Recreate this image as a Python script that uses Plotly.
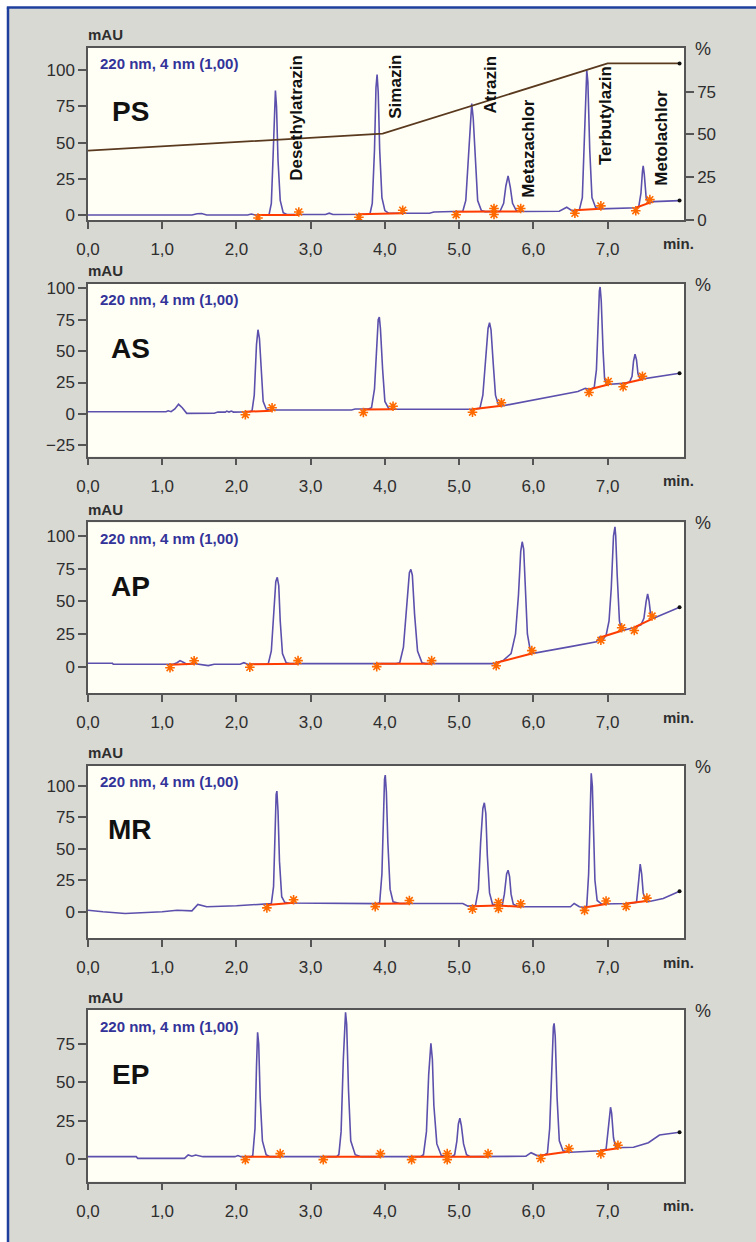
import plotly.graph_objects as go

W, H = 756, 1242

# ---------------- data ----------------
panel_names = ["PS", "AS", "AP", "MR", "EP"]
detector_label = "220 nm, 4 nm (1,00)"

x_tick_vals = [0, 1, 2, 3, 4, 5, 6, 7]
x_tick_text = ["0,0", "1,0", "2,0", "3,0", "4,0", "5,0", "6,0", "7,0"]
right_tick_vals = [0, 25, 50, 75]
left_tick_vals = [
    [0, 25, 50, 75, 100],
    [-25, 0, 25, 50, 75, 100],
    [0, 25, 50, 75, 100],
    [0, 25, 50, 75, 100],
    [0, 25, 50, 75],
]

# PS chromatogram (time in min, signal in mAU)
ps_t = [0.00, 1.40, 1.47, 1.53, 1.60, 2.15, 2.20, 2.25,
        2.44, 2.47, 2.49, 2.51, 2.525, 2.54, 2.56, 2.59, 2.63, 2.68,
        3.20, 3.25, 3.30, 3.75,
        3.80, 3.83, 3.86, 3.88, 3.895, 3.91, 3.93, 3.96, 4.00, 4.05,
        4.60, 4.66, 5.00,
        5.05, 5.09, 5.12, 5.15, 5.17, 5.19, 5.22, 5.25, 5.30, 5.35,
        5.55, 5.60, 5.63, 5.66, 5.69, 5.72, 5.77, 5.85,
        6.35, 6.45, 6.52,
        6.62, 6.66, 6.69, 6.71, 6.72, 6.735, 6.76, 6.79, 6.84, 6.90,
        7.30, 7.40,
        7.42, 7.45, 7.47, 7.48, 7.495, 7.52, 7.55,
        7.62, 7.97]
ps_mau = [0.0, 0.0, 0.8, 1.0, 0.0, 0.0, 0.6, 0.0,
          0.3, 8, 35, 75, 86, 75, 38, 10, 1.5, 0.3,
          0.3, 1.2, 0.3, 0.5,
          1.0, 8, 45, 88, 97, 85, 45, 12, 3, 1.2,
          1.2, 2.0, 2.2,
          2.5, 10, 35, 68, 77, 67, 35, 10, 3, 2.3,
          2.4, 8, 20, 27, 19, 8, 3, 2.4,
          2.5, 5.3, 3.0,
          3.5, 12, 55, 95, 100, 92, 45, 12, 5, 4.2,
          4.6, 5.0,
          5.5, 15, 30, 34, 28, 12, 8,
          9.2, 9.9]
ps_int_start = [2.29, 3.65, 4.96, 5.47, 6.56, 7.38]
ps_int_end = [2.84, 4.24, 5.47, 5.83, 6.91, 7.57]
ps_int_y0 = [0.0, 0.5, 2.2, 2.4, 3.2, 5.0]
ps_int_y1 = [0.0, 1.2, 2.4, 2.4, 4.2, 8.5]

# AS chromatogram
as_t = [0.00, 1.05, 1.08, 1.12, 1.17, 1.22, 1.27, 1.33, 1.70, 1.75, 1.85, 1.87,
        1.90, 1.93, 1.96, 2.18,
        2.21, 2.24, 2.27, 2.29, 2.31, 2.33, 2.36, 2.40, 2.45,
        3.55, 3.60, 3.78,
        3.82, 3.86, 3.89, 3.91, 3.925, 3.94, 3.97, 4.00, 4.05, 4.12,
        5.20,
        5.28, 5.32, 5.36, 5.39, 5.41, 5.43, 5.46, 5.49, 5.53, 5.58,
        6.60, 6.70, 6.76,
        6.82, 6.85, 6.87, 6.89, 6.90, 6.915, 6.94, 6.96, 6.99,
        7.25, 7.30,
        7.33, 7.35, 7.37, 7.39, 7.41, 7.44,
        7.97]
as_mau = [1.8, 1.8, 2.5, 1.8, 4.0, 7.7, 5.0, 0.5, 0.6, 1.5, 1.5, 2.3,
          1.5, 2.3, 1.5, 1.8,
          2.5, 15, 55, 67, 60, 35, 10, 4, 3.2,
          3.2, 3.9, 4.0,
          5, 20, 60, 75, 77, 68, 35, 10, 4.5, 3.7,
          3.7,
          4.5, 15, 45, 68, 72.6, 67, 40, 15, 7, 6.4,
          17.8, 20.4, 19.5,
          21, 35, 70, 98, 101, 90, 50, 28, 23.5,
          24.5, 25.7,
          30, 42, 47.5, 43, 32, 27.5,
          32.4]
as_int_start = [2.12, 3.71, 5.18, 6.75, 7.21]
as_int_end = [2.48, 4.11, 5.57, 7.01, 7.47]
as_int_y0 = [1.8, 3.6, 3.8, 19.5, 24.0]
as_int_y1 = [2.5, 3.8, 6.5, 23.5, 27.6]

# AP chromatogram
ap_t = [0.00, 0.33, 0.34, 1.15, 1.20, 1.24, 1.29, 1.33, 1.40, 1.45, 1.55, 1.62,
        1.70, 2.05, 2.10, 2.15, 2.40,
        2.43, 2.47, 2.51, 2.53, 2.55, 2.57, 2.59, 2.62, 2.67, 2.72,
        4.15,
        4.20, 4.25, 4.30, 4.33, 4.35, 4.37, 4.40, 4.44, 4.50, 4.55,
        5.45, 5.52,
        5.60, 5.70, 5.76, 5.80, 5.83, 5.85, 5.87, 5.89, 5.92, 5.96, 6.00,
        6.50, 6.85, 6.90, 6.94,
        6.98, 7.02, 7.05, 7.08, 7.10, 7.11, 7.13, 7.16, 7.19,
        7.35,
        7.45, 7.49, 7.52, 7.54, 7.56, 7.58, 7.62,
        7.97]
ap_mau = [2.6, 2.6, 1.8, 1.8, 3.0, 4.6, 3.2, 1.8, 2.6, 2.2, 1.2, 0.8,
          1.8, 1.8, 3.0, 1.8, 1.8,
          2.5, 12, 45, 65, 68.4, 62, 35, 10, 3, 2.3,
          2.3,
          3, 15, 48, 72, 74.5, 70, 40, 12, 3, 2.3,
          2.3, 3.0,
          5, 10, 25, 55, 88, 95.6, 90, 60, 25, 12, 10.2,
          15.3, 19.1, 23, 21,
          24, 35, 60, 100, 107, 100, 70, 35, 27.5,
          29.8,
          32, 37, 50, 55.6, 50, 40, 37,
          45.4]
ap_int_start = [1.105, 2.18, 3.89, 5.50, 6.91, 7.36]
ap_int_end = [1.43, 2.83, 4.63, 5.98, 7.19, 7.60]
ap_int_y0 = [1.5, 1.8, 2.3, 3.0, 22.5, 30.0]
ap_int_y1 = [2.2, 2.3, 2.3, 10.0, 27.5, 36.5]

# MR chromatogram
mr_t = [0.00, 0.20, 0.50, 0.75, 1.00, 1.20, 1.40, 1.48, 1.60, 2.00, 2.40,
        2.47, 2.50, 2.52, 2.535, 2.545, 2.56, 2.58, 2.61, 2.65, 2.70,
        3.90,
        3.93, 3.96, 3.98, 3.995, 4.005, 4.02, 4.04, 4.07, 4.11, 4.20,
        5.05, 5.12,
        5.22, 5.26, 5.29, 5.32, 5.34, 5.36, 5.38, 5.41, 5.45,
        5.58, 5.61, 5.64, 5.66, 5.68, 5.70, 5.73, 5.80,
        6.50, 6.55, 6.62, 6.70,
        6.72, 6.745, 6.765, 6.78, 6.795, 6.81, 6.83, 6.86, 6.92,
        7.30,
        7.39, 7.42, 7.44, 7.46, 7.48, 7.51,
        7.55, 7.75, 7.97]
mr_mau = [1.3, 0.0, -1.3, -0.5, 0.0, 1.3, 0.8, 5.8, 4.0, 4.8, 6.1,
          6.5, 20, 65, 93, 95.8, 80, 40, 12, 7.5, 7.0,
          6.5,
          7.5, 30, 80, 105, 108.5, 95, 55, 18, 8, 6.6,
          6.6, 4.5,
          5, 18, 55, 82, 86.5, 78, 45, 15, 6,
          5, 14, 30, 33, 28, 14, 6, 4,
          4.0, 6.6, 4.0, 3.4,
          5, 30, 90, 109.8, 100, 60, 25, 9, 6.2,
          6.6,
          7.5, 25, 37.9, 30, 15, 9,
          8.0, 10.6, 16.4]
mr_int_start = [2.41, 3.87, 5.18, 5.53, 6.69, 7.25]
mr_int_end = [2.77, 4.33, 5.53, 5.83, 6.98, 7.53]
mr_int_y0 = [5.5, 6.5, 4.5, 5.0, 3.5, 6.6]
mr_int_y1 = [7.2, 6.6, 5.0, 4.0, 6.2, 8.5]

# EP chromatogram
ep_t = [0.00, 0.65, 0.67, 1.30, 1.35, 1.40, 1.45, 1.50, 1.55, 1.98, 2.02, 2.06, 2.20,
        2.22, 2.25, 2.27, 2.285, 2.30, 2.32, 2.35, 2.40, 2.45,
        3.35,
        3.38, 3.41, 3.44, 3.46, 3.47, 3.485, 3.51, 3.54, 3.60, 3.68,
        4.48,
        4.52, 4.56, 4.59, 4.61, 4.62, 4.64, 4.66, 4.70, 4.76, 4.90,
        4.94, 4.97, 4.99, 5.01, 5.03, 5.06, 5.10, 5.15,
        5.90, 5.97, 6.05, 6.15,
        6.19, 6.22, 6.25, 6.27, 6.28, 6.295, 6.32, 6.35, 6.40, 6.50,
        6.90,
        6.98, 7.01, 7.03, 7.04, 7.055, 7.08, 7.11,
        7.35, 7.55, 7.70, 7.97]
ep_mau = [1.7, 1.7, 0.6, 0.6, 2.8, 2.0, 2.8, 2.0, 1.7, 1.7, 2.4, 1.7, 1.7,
          2.5, 20, 60, 82.7, 75, 40, 12, 3, 1.7,
          1.7,
          3, 18, 65, 93, 95.7, 88, 45, 12, 3, 1.7,
          1.7,
          3, 18, 55, 74, 75.5, 65, 35, 10, 2.5, 1.7,
          3, 12, 23, 26.7, 22, 10, 3, 1.7,
          2.0, 4.3, 2.4, 2.8,
          4, 20, 65, 86, 88.5, 80, 40, 12, 5.5, 4.6,
          5.6,
          6.5, 20, 31, 33.9, 30, 14, 7.5,
          7.8, 10.8, 15.8, 17.6]
ep_int_start = [2.12, 3.17, 4.36, 4.84, 6.10, 6.91]
ep_int_end = [2.59, 3.94, 4.84, 5.39, 6.48, 7.14]
ep_int_y0 = [1.7, 1.7, 1.7, 1.7, 2.5, 5.5]
ep_int_y1 = [1.7, 1.7, 1.7, 1.7, 5.0, 7.2]

# gradient (%B) shown in PS panel
gradient_t = [0.0, 3.97, 7.0, 7.97]
gradient_pct = [40.5, 50.5, 91.5, 91.5]

# peak names (PS panel)
compound_names = ["Desethylatrazin", "Simazin", "Atrazin", "Metazachlor",
                  "Terbutylazin", "Metolachlor"]
compound_label_t = [2.80, 4.14, 5.41, 5.94, 6.98, 7.73]
compound_label_mau = [67, 88.8, 89.8, 46.3, 68.4, 53.2]

traces_t = [ps_t, as_t, ap_t, mr_t, ep_t]
traces_mau = [ps_mau, as_mau, ap_mau, mr_mau, ep_mau]
int_start = [ps_int_start, as_int_start, ap_int_start, mr_int_start, ep_int_start]
int_end = [ps_int_end, as_int_end, ap_int_end, mr_int_end, ep_int_end]
int_y0 = [ps_int_y0, as_int_y0, ap_int_y0, mr_int_y0, ep_int_y0]
int_y1 = [ps_int_y1, as_int_y1, ap_int_y1, mr_int_y1, ep_int_y1]

# ---------------- layout geometry (pixels) ----------------
plot_left, plot_right = 88, 684
tops = [47.7, 284, 522.3, 765.7, 1010]
bottoms = [220, 456.7, 693.3, 938.3, 1181.7]
left_ranges = [(-3.5, 115.6), (-34, 103.4), (-20.4, 110.5), (-21, 115.9), (-14.6, 97.2)]
right_range = (0, 100.7)
x_range = (0, 8.03)

FONT = "Liberation Sans, Arial, Helvetica, sans-serif"
TXT = "#2e2e2e"
AXC = "#555555"
LINE_C = "#5c50ad"
INT_C = "#ff3c00"
MARK_C = "#ff6a00"
BG = "#d9d9d4"
PLOT_BG = "#fffff5"
BORDER = "#1f3f9e"


def px(x):
    return x / W


def py(y):
    return 1 - y / H


fig = go.Figure()
layout = dict(
    width=W, height=H, margin=dict(l=0, r=0, t=0, b=0, pad=0, autoexpand=False),
    paper_bgcolor=BG, plot_bgcolor=PLOT_BG, showlegend=False,
    font=dict(family=FONT, color=TXT, size=16),
)
annotations = []
axis_common = dict(showgrid=False, zeroline=False, automargin=False,
                   ticks="outside", tickwidth=1.5, tickcolor=AXC,
                   showline=True, linecolor=AXC, linewidth=1.5,
                   tickfont=dict(size=17, color=TXT, family=FONT))

for i in range(5):
    n = i + 1
    xk = "x" if n == 1 else f"x{n}"
    yk = "y" if n == 1 else f"y{n}"
    dom_y = [py(bottoms[i]), py(tops[i])]
    layout["xaxis" if n == 1 else f"xaxis{n}"] = dict(
        axis_common, domain=[px(plot_left), px(plot_right)], anchor=yk, range=list(x_range),
        tickvals=x_tick_vals, ticktext=x_tick_text, ticklen=7, mirror=True,
        ticklabelstandoff=6,
    )
    layout["yaxis" if n == 1 else f"yaxis{n}"] = dict(
        axis_common, domain=dom_y, anchor=xk, range=list(left_ranges[i]),
        tickvals=left_tick_vals[i], ticklen=8, mirror=True,
    )
    layout[f"yaxis{n + 5}"] = dict(
        axis_common, domain=dom_y, anchor=xk, overlaying=yk, side="right",
        range=list(right_range), tickvals=right_tick_vals, ticklen=8,
    )

    fig.add_trace(go.Scatter(
        x=traces_t[i], y=traces_mau[i], mode="lines", xaxis=xk, yaxis=yk,
        line=dict(color=LINE_C, width=1.6), hoverinfo="skip"))
    fig.add_trace(go.Scatter(
        x=traces_t[i][-1:], y=traces_mau[i][-1:], mode="markers", xaxis=xk, yaxis=yk,
        marker=dict(color="#111111", size=4), hoverinfo="skip"))

    for s, e, a, b in zip(int_start[i], int_end[i], int_y0[i], int_y1[i]):
        fig.add_trace(go.Scatter(
            x=[s, e], y=[a, b], mode="lines", xaxis=xk, yaxis=yk,
            line=dict(color=INT_C, width=2), hoverinfo="skip"))
    lo, hi = left_ranges[i]
    unit_px = (bottoms[i] - tops[i]) / (hi - lo)
    off = 3.0 / unit_px
    fig.add_trace(go.Scatter(
        x=int_start[i], y=[v - off for v in int_y0[i]], mode="markers",
        xaxis=xk, yaxis=yk, hoverinfo="skip",
        marker=dict(symbol="asterisk-open", size=8, color=MARK_C,
                    line=dict(color=MARK_C, width=1.6))))
    fig.add_trace(go.Scatter(
        x=int_end[i], y=[v + off for v in int_y1[i]], mode="markers",
        xaxis=xk, yaxis=yk, hoverinfo="skip",
        marker=dict(symbol="asterisk-open", size=8, color=MARK_C,
                    line=dict(color=MARK_C, width=1.6))))

    annotations.append(dict(text="<b>mAU</b>", xref="paper", yref="paper",
                            x=px(plot_left - 2), y=py(tops[i] - 13), xanchor="left",
                            yanchor="middle", showarrow=False,
                            font=dict(size=15, color=TXT, family=FONT)))
    annotations.append(dict(text="%", xref="paper", yref="paper",
                            x=px(703), y=py(tops[i] + 1), xanchor="center",
                            yanchor="middle", showarrow=False,
                            font=dict(size=18, color=TXT, family=FONT)))
    annotations.append(dict(text="<b>min.</b>", xref="paper", yref="paper",
                            x=px(678), y=py(bottoms[i] + 24), xanchor="center",
                            yanchor="middle", showarrow=False,
                            font=dict(size=15, color=TXT, family=FONT)))
    annotations.append(dict(text="<b>" + detector_label + "</b>", xref="paper", yref="paper",
                            x=px(98), y=py(tops[i] + 16), xanchor="left",
                            yanchor="middle", showarrow=False,
                            font=dict(size=15, color="#33339a", family=FONT)))
    annotations.append(dict(text="<b>" + panel_names[i] + "</b>", xref="paper", yref="paper",
                            x=px(130), y=py(tops[i] + 64), xanchor="center",
                            yanchor="middle", showarrow=False,
                            font=dict(size=28, color="#111111", family=FONT)))

fig.add_trace(go.Scatter(
    x=gradient_t, y=gradient_pct, mode="lines", xaxis="x", yaxis="y6",
    line=dict(color="#5a3a1f", width=1.8), hoverinfo="skip"))
fig.add_trace(go.Scatter(
    x=gradient_t[-1:], y=gradient_pct[-1:], mode="markers", xaxis="x", yaxis="y6",
    marker=dict(color="#111111", size=4), hoverinfo="skip"))

for name, t, v in zip(compound_names, compound_label_t, compound_label_mau):
    annotations.append(dict(text="<b>" + name + "</b>", xref="x", yref="y", x=t, y=v,
                            textangle=-90, showarrow=False, xanchor="center",
                            yanchor="middle",
                            font=dict(size=17, color="#111111", family=FONT)))

layout["annotations"] = annotations
layout["shapes"] = [
    dict(type="rect", xref="paper", yref="paper", x0=0, x1=px(7), y0=0, y1=1,
         fillcolor="white", line=dict(width=0), layer="below"),
    dict(type="rect", xref="paper", yref="paper", x0=0, x1=1, y0=py(7), y1=1,
         fillcolor="white", line=dict(width=0), layer="below"),
    dict(type="line", xref="paper", yref="paper", x0=px(8), x1=px(8), y0=0, y1=py(7.5),
         line=dict(color=BORDER, width=2.5)),
    dict(type="line", xref="paper", yref="paper", x0=px(6.8), x1=1, y0=py(7.5), y1=py(7.5),
         line=dict(color=BORDER, width=2.5)),
]
fig.update_layout(**layout)
fig.write_html(
    "out.html",
    config={"displayModeBar": False},
    post_script="document.body.style.margin='0';",
)
